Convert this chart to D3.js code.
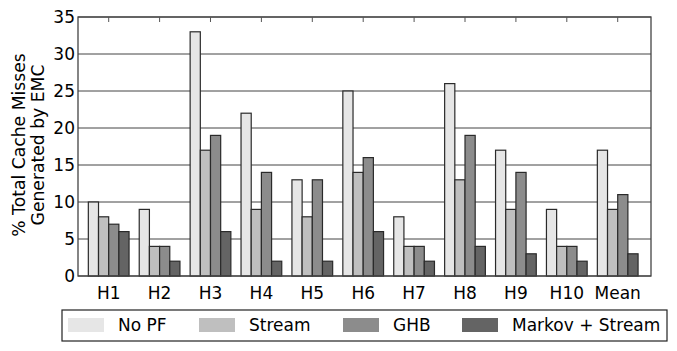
<!DOCTYPE html>
<html>
<head>
<meta charset="utf-8">
<script src="https://cdn.jsdelivr.net/npm/d3@7"></script>
<style>
  body { margin: 0; background: #fff; }
  text { font-family: "DejaVu Sans", sans-serif; fill: #000; }
</style>
</head>
<body>
<svg id="chart" width="677" height="351"></svg>
<script>
var categories = ["H1", "H2", "H3", "H4", "H5", "H6", "H7", "H8", "H9", "H10", "Mean"];
var seriesNames = ["No PF", "Stream", "GHB", "Markov + Stream"];
var noPF = [10, 9, 33, 22, 13, 25, 8, 26, 17, 9, 17];
var stream = [8, 4, 17, 9, 8, 14, 4, 13, 9, 4, 9];
var ghb = [7, 4, 19, 14, 13, 16, 4, 19, 14, 4, 11];
var markov = [6, 2, 6, 2, 2, 6, 2, 4, 3, 2, 3];
var yTicks = [0, 5, 10, 15, 20, 25, 30, 35];

var allSeries = [noPF, stream, ghb, markov];
var colors = ["#e6e6e6", "#bfbfbf", "#8c8c8c", "#646464"];

var margin = {top: 17, left: 78, right: 26, bottom: 75};
var width = 677, height = 351;

var svg = d3.select("#chart");

var x = d3.scaleLinear().domain([-0.603, 10.654]).range([margin.left, width - margin.right]);
var y = d3.scaleLinear().domain([0, 35]).range([height - margin.bottom, margin.top]);
var barW = 0.2;

// grid lines
svg.append("g")
  .selectAll("line")
  .data(yTicks)
  .enter()
  .append("line")
  .attr("x1", x.range()[0])
  .attr("x2", x.range()[1])
  .attr("y1", function(d){ return y(d); })
  .attr("y2", function(d){ return y(d); })
  .style("stroke", "#444")
  .style("stroke-width", 1);

// bars
allSeries.map(function(vals, s){
  svg.append("g")
    .selectAll("rect")
    .data(vals)
    .enter()
    .append("rect")
    .attr("x", function(d,i){ return x(i - 0.4 + s*barW); })
    .attr("y", function(d){ return y(d); })
    .attr("width", function(d,i){ return x(i - 0.4 + (s+1)*barW) - x(i - 0.4 + s*barW); })
    .attr("height", function(d){ return y(0) - y(d); })
    .attr("fill", colors[s])
    .style("stroke", "#2a2a2a")
    .style("stroke-width", 1.2);
});

// frame
svg.append("rect")
  .attr("x", x.range()[0])
  .attr("y", y(35))
  .attr("width", x.range()[1] - x.range()[0])
  .attr("height", y(0) - y(35))
  .style("fill", "none")
  .style("stroke", "#444")
  .style("stroke-width", 1.3);

// top ticks
svg.append("g")
  .selectAll("line")
  .data(categories)
  .enter()
  .append("line")
  .attr("x1", function(d,i){ return x(i); })
  .attr("x2", function(d,i){ return x(i); })
  .attr("y1", y(35))
  .attr("y2", y(35) + 5)
  .style("stroke", "#555")
  .style("stroke-width", 1);

// x labels
svg.append("g")
  .selectAll("text")
  .data(categories)
  .enter()
  .append("text")
  .attr("x", function(d,i){ return x(i); })
  .attr("y", y(0) + 23)
  .attr("text-anchor", "middle")
  .style("font-size", "17px")
  .text(function(d){ return d; });

// y labels
svg.append("g")
  .selectAll("text")
  .data(yTicks)
  .enter()
  .append("text")
  .attr("x", x.range()[0] - 3)
  .attr("y", function(d){ return y(d) + 6; })
  .attr("text-anchor", "end")
  .style("font-size", "17px")
  .text(function(d){ return d; });

// y axis title
var title = svg.append("text")
  .attr("transform", "translate(24.5,145) rotate(-90)")
  .attr("text-anchor", "middle")
  .style("font-size", "17.2px");
title.append("tspan").attr("x", 0).attr("dy", 0).text("% Total Cache Misses");
title.append("tspan").attr("x", 0).attr("dy", 19.5).text("Generated by EMC");

// legend
var legend = svg.append("g");
legend.append("rect")
  .attr("x", 62)
  .attr("y", 310)
  .attr("width", 605)
  .attr("height", 31)
  .style("fill", "#fff")
  .style("stroke", "#222")
  .style("stroke-width", 1.2);

var legX = [68, 199, 343, 462];
seriesNames.map(function(name, i){
  legend.append("rect")
    .attr("x", legX[i])
    .attr("y", 318)
    .attr("width", 36)
    .attr("height", 14)
    .attr("fill", colors[i]);
  legend.append("text")
    .attr("x", legX[i] + 50)
    .attr("y", 331)
    .style("font-size", "17px")
    .text(name);
});
</script>
</body>
</html>
